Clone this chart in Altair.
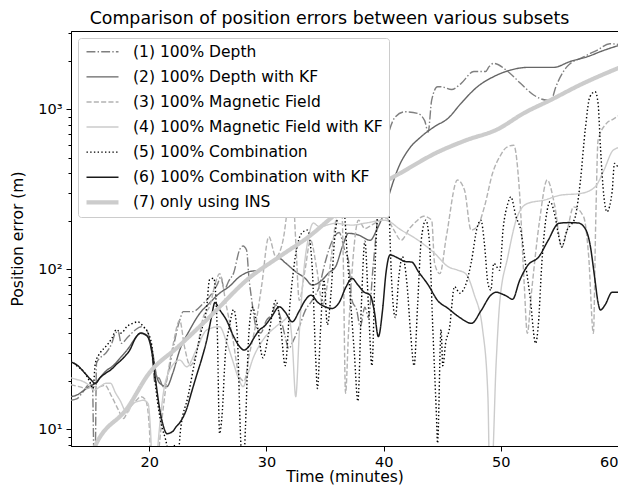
import altair as alt
import pandas as pd

labels = [
    "(1) 100% Depth",
    "(2) 100% Depth with KF",
    "(3) 100% Magnetic Field",
    "(4) 100% Magnetic Field with KF",
    "(5) 100% Combination",
    "(6) 100% Combination with KF",
    "(7) only using INS",
]
colors = ["#7f7f7f", "#666666", "#b3b3b3", "#cccccc", "#000000", "#1a1a1a", "#cccccc"]
dashes = [[8.9, 2.2, 1.4, 2.2], [1, 0], [5.1, 2.2], [1, 0], [1.4, 2.3], [1, 0], [1, 0]]
widths = [1.4, 1.4, 1.4, 1.4, 1.4, 1.5, 4.2]

# (1) 100% Depth
t1 = [13.3, 13.8, 14.3, 14.8, 15.15, 15.25, 15.35, 15.5, 15.9, 16.3, 16.8, 17.1, 17.35, 17.6, 18.2, 18.8,
      19.3, 19.75, 20.2, 20.5, 20.8, 21.2, 21.6, 22.0, 22.6, 22.9, 23.7, 24.6, 25.3, 25.85, 26.1, 26.4,
      26.8, 27.2, 27.7, 28.0, 28.3, 28.5, 28.8, 29.1, 29.5, 30.0, 30.5, 30.8, 31.2, 31.6, 31.9, 32.3,
      32.8, 33.3, 33.9, 34.5, 35.0, 35.6, 36.2, 36.7, 37.0, 37.3, 37.7, 38.0, 38.4, 38.7, 39.1, 39.55,
      40.1, 40.5, 41.0, 41.8, 42.9, 43.5, 43.8, 44.1, 44.6, 44.9, 45.8, 46.6, 47.7, 48.7, 49.0, 49.4,
      50.6, 51.7, 52.8, 53.96, 54.3, 54.7, 55.65, 57.07, 58.2, 59.3, 60.2]
v1 = [15.2, 15.5, 17, 19, 19.4, 8, 4, 26, 28.4, 30, 34.5, 39.8, 40.8, 34.5, 37.9, 41.8,
      43.8, 41.8, 31.3, 19.4, 21, 18.5, 22, 31.3, 48.2, 54.4, 54.4, 61.2, 70, 81.8, 90, 75,
      85, 95, 132, 140, 132, 90, 60, 43.8, 40, 48, 53, 60, 50, 38, 32, 36,
      43.8, 55, 64, 78, 110, 150, 170, 130, 114, 64, 55.7, 43.8, 58, 50, 104, 235,
      557, 742, 899, 966, 944, 850, 722, 1143, 1385, 1385, 1330, 1450, 1725, 1725, 1850, 1940,
      1725, 1450, 1230, 1143, 1150, 1385, 1850, 2130, 2340, 2570, 2540]

# (2) 100% Depth with KF
t2 = [13.3, 13.9, 14.4, 15.0, 15.4, 15.9, 16.4, 16.8, 17.6, 18.2, 18.8, 19.2, 19.9, 20.3, 20.6, 20.9,
      21.5, 22.0, 22.6, 23.45, 24.3, 25.1, 26.0, 26.8, 27.7, 28.5, 29.4, 30.5, 31.1, 31.6, 32.5, 33.3,
      33.9, 34.75, 35.3, 35.9, 36.5, 37.0, 37.85, 38.85, 39.4, 40.1, 40.5, 41.3, 42.1, 43.2, 44.35, 45.5,
      46.6, 48.0, 49.4, 50.85, 52.3, 53.5, 54.5, 55.9, 57.35, 58.8, 60.3]
v2 = [16, 16.5, 17.5, 18.8, 19.4, 21.5, 23.5, 24.6, 28.4, 32, 37.1, 39.8, 37.9, 29.9, 22, 19.4,
      18.5, 22.4, 31.3, 41.8, 53, 61.2, 70.9, 77.9, 90, 96.6, 99, 112, 117, 110, 96.6, 88,
      79.8, 85.8, 95, 104, 140, 168, 164, 152, 176, 235, 298, 439, 557, 675, 781, 880,
      1090, 1385, 1603, 1763, 1830, 1830, 1830, 1990, 2130, 2340, 2540]

# (3) 100% Magnetic Field
t3 = [13.3, 14.0, 14.7, 15.1, 15.8, 16.2, 16.8, 17.35, 17.8, 18.2, 18.8, 19.3, 19.7, 20.0, 20.2, 20.5,
      20.9, 21.5, 22.0, 22.6, 23.0, 23.5, 24.0, 24.6, 25.2, 25.6, 26.0, 26.6, 27.1, 27.7, 28.1, 28.5,
      29.1, 29.6, 30.2, 30.8, 31.4, 31.9, 32.2, 32.5, 32.8, 33.3, 33.76, 34.3, 34.8, 35.3, 35.9, 36.35,
      36.55, 36.75, 37.0, 37.4, 37.85, 38.4, 39.0, 39.6, 40.2, 40.8, 41.5, 42.2, 42.8, 43.4, 44.1, 44.35,
      44.8, 45.35, 46.3, 46.9, 47.46, 48.0, 48.6, 49.3, 50.0, 50.5, 51.1, 51.6, 52.0, 52.26, 52.6, 53.3,
      53.96, 54.6, 55.2, 55.7, 56.2, 57.07, 57.5, 57.9, 58.1, 58.3, 59.0, 59.6, 60.4]
v3 = [19, 18.5, 18, 18.5, 18.5, 18.9, 16, 13.3, 11.7, 13.2, 14.9, 16, 15.2, 10.4, 5, 4,
      8.6, 20.3, 32.9, 48, 33, 25, 30, 50, 60, 80, 94, 58, 38, 21.3, 20, 28.4,
      46, 80, 160, 120, 150, 271, 345, 150, 64, 100, 152, 100, 60, 90, 200, 345,
      120, 16.8, 40, 120, 203, 180, 190, 200, 210, 180, 152, 180, 200, 215, 203, 109,
      94, 160, 362, 313, 176, 185, 246, 400, 520, 580, 597, 300, 80, 39.8, 70, 200,
      362, 250, 138, 180, 246, 213, 120, 39.8, 200, 642, 815, 870, 945]

# (4) 100% Magnetic Field with KF
t4 = [13.3, 13.8, 14.3, 14.8, 15.3, 15.8, 16.3, 16.7, 17.1, 17.5, 18.1, 18.6, 19.1, 19.5, 19.9, 20.1,
      20.25, 20.5, 20.8, 21.2, 21.75, 22.6, 23.2, 24.0, 24.9, 26.0, 26.6, 27.1, 27.6, 28.0, 28.4, 28.8,
      29.7, 30.8, 31.5, 31.9, 32.2, 32.5, 32.8, 33.2, 33.6, 34.0, 34.5, 35.9, 37.3, 38.5, 40.1, 41.5,
      42.95, 44.35, 45.5, 46.3, 47.0, 47.7, 48.45, 48.9, 49.05, 49.2, 49.6, 49.9, 50.6, 51.4, 52.26, 53.7,
      55.1, 56.8, 58.05, 58.8, 59.6, 60.4]
v4 = [21, 20.5, 20, 19, 17.6, 18.5, 19.4, 19.4, 17, 15.2, 12.7, 14.5, 15, 15.2, 14.5, 10,
      6, 5, 9, 16.8, 23.5, 27.1, 24.6, 31.3, 41.8, 43.8, 35, 27.1, 21, 18.5, 22, 27.1,
      36.2, 43.8, 48, 50.6, 35, 16, 40, 100, 160, 195, 185, 194, 189, 195, 203, 176,
      152, 126, 104, 99, 94, 70.7, 41.8, 16, 5, 5, 25.9, 61.2, 120, 213, 258, 271,
      291, 298, 328, 417, 557, 585]

# (5) 100% Combination
t5 = [13.3, 13.8, 14.4, 14.9, 15.2, 15.4, 15.8, 16.3, 16.8, 17.2, 17.6, 18.1, 18.6, 19.0, 19.5, 19.9,
      20.2, 20.6, 21.0, 21.4, 21.8, 22.1, 22.4, 22.7, 23.3, 23.9, 24.4, 24.9, 25.14, 25.5, 25.8, 26.0,
      26.2, 26.5, 26.84, 27.2, 27.5, 27.8, 28.0, 28.2, 28.5, 28.8, 29.2, 29.7, 30.2, 30.8, 31.2, 31.6,
      32.0, 32.5, 33.0, 33.5, 33.9, 34.2, 34.35, 34.6, 34.9, 35.2, 35.5, 35.8, 36.2, 36.6, 36.9, 37.2,
      37.5, 37.8, 38.1, 38.4, 38.7, 39.0, 39.3, 39.7, 40.2, 40.45, 40.7, 41.0, 41.3, 41.6, 42.0, 42.3,
      42.6, 42.9, 43.2, 43.6, 43.9, 44.2, 44.5, 44.6, 44.9, 45.05, 45.3, 45.6, 46.05, 46.5, 47.0, 47.46,
      48.0, 48.3, 48.6, 48.9, 49.15, 49.4, 49.9, 50.2, 50.6, 50.85, 51.3, 51.7, 52.1, 52.5, 52.97, 53.2,
      53.5, 53.96, 54.2, 54.6, 54.95, 55.2, 55.65, 56.0, 56.35, 56.8, 57.2, 57.6, 58.05, 58.3, 58.5, 58.8,
      59.05, 59.5, 59.7, 60.0, 60.4]
v5 = [27, 25, 23, 20, 18, 26, 30, 33, 37, 42, 40, 44, 46, 47, 44, 40,
      34, 17, 11, 8.6, 6.5, 8, 6.5, 10.4, 16, 27, 40, 58, 86, 88, 42, 9.4,
      12, 30, 44, 56, 40, 8.6, 5, 10, 40, 58, 45, 28, 40, 64, 45, 25,
      60, 125, 168, 176, 104, 28, 18, 40, 86, 45, 70, 150, 224, 235, 120, 60,
      30, 15, 60, 150, 60, 25, 120, 400, 780, 250, 80, 50, 90, 120, 80, 40,
      25, 60, 150, 203, 150, 42, 12.5, 8.2, 42, 25, 35, 42, 78, 71, 80, 109,
      185, 203, 145, 82, 74, 109, 99, 180, 258, 284, 213, 176, 109, 67, 34.5, 45,
      109, 235, 265, 220, 160, 138, 176, 190, 213, 362, 742, 1200, 1290, 1090, 584, 284,
      229, 306, 460, 440, 460]

# (6) 100% Combination with KF
t6 = [13.3, 13.9, 14.5, 15.0, 15.4, 15.8, 16.3, 16.7, 17.2, 17.8, 18.3, 18.9, 19.3, 19.8, 20.2, 20.5,
      20.9, 21.2, 21.5, 22.0, 22.3, 22.6, 23.2, 23.6, 24.0, 24.5, 24.9, 25.3, 25.6, 26.0, 26.6, 27.2,
      27.7, 28.1, 28.5, 29.0, 29.4, 29.8, 30.4, 31.1, 31.6, 32.2, 32.8, 33.3, 33.8, 34.4, 35.0, 35.6,
      36.2, 36.8, 37.3, 37.8, 38.3, 38.85, 39.2, 39.55, 39.9, 40.2, 40.55, 41.2, 41.8, 42.4, 43.0, 43.8,
      44.6, 45.5, 46.5, 47.5, 48.3, 49.15, 49.6, 50.0, 50.5, 51.0, 51.6, 52.3, 53.25, 54.0, 54.95, 55.8,
      56.6, 57.2, 57.6, 58.0, 58.3, 58.5, 58.9, 59.5, 60.1]
v6 = [26.4, 25, 22.5, 20.5, 19.4, 21, 22.5, 23.5, 25.5, 28, 31, 38, 40, 38.5, 31, 21.3,
      13.2, 10.5, 9.4, 9.7, 10.4, 11, 13.5, 17, 21.3, 28, 36, 50, 62, 56, 48, 38,
      33, 31.3, 33, 38, 41.8, 44, 50, 58.4, 54, 47, 55, 64, 69, 62, 58.4, 57,
      62, 78, 87.8, 80, 72.4, 69, 55, 38, 55, 95, 123, 118, 112, 111, 96, 80,
      64, 57, 50, 46, 55, 69, 72, 70.7, 68, 65, 85, 106, 120, 150, 194, 196,
      195, 180, 145, 90, 62, 55.7, 60, 72, 72]

# (7) only using INS
t7 = [14.5, 15.5, 18.1, 20.0, 22.5, 25.1, 28.5, 31.1, 33.6, 36.2, 38.7, 41.3, 44.6, 47.0, 49.7, 52.0,
      54.2, 57.0, 60.4]
v7 = [5.5, 8.2, 13.5, 22.5, 33, 50, 88, 120, 160, 230, 310, 395, 540, 640, 750, 950,
      1140, 1450, 1860]

ts = [t1, t2, t3, t4, t5, t6, t7]
vs = [v1, v2, v3, v4, v5, v6, v7]
rows = []
for lab, tt, vv in zip(labels, ts, vs):
    for a, b in zip(tt, vv):
        rows.append({"series": lab, "t": a, "v": b})
df = pd.DataFrame(rows)

x_ticks = [20, 30, 40, 50, 60]
y_ticks = [8, 9, 10, 20, 30, 40, 50, 60, 70, 80, 90, 100, 200, 300, 400, 500, 600, 700, 800, 900,
           1000, 2000, 3000]

leg = alt.Legend(title=None)
x_enc = alt.X("t:Q", scale=alt.Scale(domain=[13.32, 60.0], nice=False, zero=False),
              axis=alt.Axis(values=x_ticks, title="Time (minutes)", grid=False,
                            tickSize=5, labelPadding=4, titlePadding=1, labelFontSize=14.5))
y_enc = alt.Y("v:Q", scale=alt.Scale(type="log", domain=[7.87, 3090], nice=False),
              axis=alt.Axis(values=y_ticks, title="Position error (m)", grid=False,
                            labelExpr="datum.value == 10 ? '10¹' : datum.value == 100 ? '10²' : datum.value == 1000 ? '10³' : ''",
                            tickSize={"condition": {"test": "datum.value == 10 || datum.value == 100 || datum.value == 1000", "value": 5}, "value": 3},
                            labelPadding=4, titlePadding=12, labelFontSize=14.5))
c_enc = alt.Color("series:N", scale=alt.Scale(domain=labels, range=colors), legend=leg)
d_enc = alt.StrokeDash("series:N", scale=alt.Scale(domain=labels, range=dashes), legend=leg)
w_enc = alt.StrokeWidth("series:N", scale=alt.Scale(type="ordinal", domain=labels, range=widths), legend=leg)

base = alt.Chart(df)
layers = []
for lab in labels:
    layers.append(
        base.transform_filter(alt.datum.series == lab)
        .mark_line(clip=True, interpolate="monotone")
        .encode(x=x_enc, y=y_enc, color=c_enc, strokeDash=d_enc, strokeWidth=w_enc)
    )

chart = (
    alt.layer(*layers)
    .properties(
        width=547,
        height=415,
        autosize=alt.AutoSizeParams(type="none"),
        padding={"left": 63, "top": 23, "right": 0, "bottom": 42},
        title=alt.TitleParams(
            "Comparison of position errors between various subsets",
            fontSize=17.4, font="DejaVu Sans", fontWeight="normal", color="black",
            anchor="middle", offset=4, dx=-15,
        ),
    )
    .configure_view(stroke="black", strokeWidth=1)
    .configure_axis(
        labelFont="DejaVu Sans", labelColor="black",
        titleFont="DejaVu Sans", titleFontSize=15.5, titleFontWeight="normal", titleColor="black",
        domainColor="black", tickColor="black", domainWidth=1, tickWidth=1,
    )
    .configure_legend(
        orient="none", legendX=7, legendY=7,
        fillColor="white", strokeColor="#cccccc", cornerRadius=3, padding=6,
        labelFont="DejaVu Sans", labelFontSize=15.5, labelColor="black",
        symbolType="stroke", symbolSize=1024, clipHeight=15.5, rowPadding=8.1,
        labelOffset=12, labelLimit=400,
    )
)

chart.save("out.html", embed_options={"renderer": "svg", "actions": False})
